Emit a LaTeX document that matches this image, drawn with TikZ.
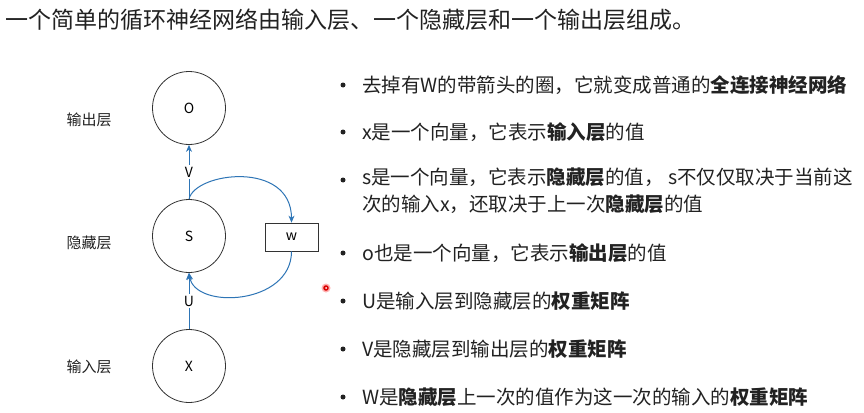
\documentclass[tikz,border=0pt]{standalone}
\usepackage{fontspec}
\setmainfont{Noto Sans CJK SC}
\usetikzlibrary{arrows.meta}
\definecolor{arrowblue}{HTML}{2E75B6}
\definecolor{txt}{HTML}{222222}
\tikzset{
  neuron/.style={circle,draw=black!80,line width=0.8pt,minimum size=73pt,inner sep=0pt,font=\fontsize{14}{16}\selectfont},
  wbox/.style={rectangle,draw=black!80,line width=0.8pt,minimum width=53pt,minimum height=28pt,inner sep=0pt,font=\fontsize{14}{16}\selectfont},
  layerlbl/.style={font=\fontsize{15}{17}\selectfont,text=txt},
  conn/.style={draw=arrowblue,line width=1pt,-{Stealth[length=7pt,width=6pt]}},
  wlbl/.style={fill=white,inner sep=1.5pt,font=\fontsize{14}{16}\selectfont},
  bullettxt/.style={anchor=west,inner sep=0pt,font=\fontsize{19.5}{27}\selectfont,text=txt,align=left},
  bulletdot/.style={circle,fill=txt,minimum size=5pt,inner sep=0pt}
}
\begin{document}
\begin{tikzpicture}[x=1pt,y=-1pt]
\useasboundingbox[fill=white] (0,0) rectangle (864,412);
% title
\node[anchor=west,inner sep=0pt,font=\fontsize{23}{25}\selectfont,text=txt] (title) at (5,20) {一个简单的循环神经网络由输入层、一个隐藏层和一个输出层组成。};
% layer labels
\node[layerlbl] (lo) at (89,120) {输出层};
\node[layerlbl] (lh) at (89,243) {隐藏层};
\node[layerlbl] (li) at (89,367) {输入层};
% neurons
\node[neuron] (O) at (189,108) {O};
\node[neuron] (S) at (189,236) {S};
\node[neuron] (X) at (189,366) {X};
\node[wbox] (W) at (291.5,237) {w};
% connectors
\draw[conn] (S.north) -- node[wlbl] {V} (O.south);
\draw[conn] (X.north) -- node[wlbl] {U} (S.south);
\draw[conn] (S.north) .. controls (195,172) and (291.5,160) .. (W.north);
\draw[conn] (W.south) .. controls (291.5,305) and (195,310) .. (S.south);
% pointer dot
\fill[red!30] (326,288) circle (4.5pt);
\fill[red!85!black] (326,288) circle (2.8pt);
\fill[white] (326,288) circle (1pt);
% bullets
\node[bulletdot] (d1) at (343,85) {};
\node[bullettxt] (b1) at (362,85) {去掉有W的带箭头的圈，它就变成普通的\textbf{全连接神经网络}};
\node[bulletdot] (d2) at (343,132) {};
\node[bullettxt] (b2) at (362,132) {x是一个向量，它表示\textbf{输入层}的值};
\node[bulletdot] (d3) at (343,180) {};
\node[bullettxt,anchor=north west] (b3) at (362,168) {s是一个向量，它表示\textbf{隐藏层}的值， s不仅仅取决于当前这\\次的输入x，还取决于上一次\textbf{隐藏层}的值};
\node[bulletdot] (d4) at (343,253) {};
\node[bullettxt] (b4) at (362,253) {o也是一个向量，它表示\textbf{输出层}的值};
\node[bulletdot] (d5) at (343,301) {};
\node[bullettxt] (b5) at (362,301) {U是输入层到隐藏层的\textbf{权重矩阵}};
\node[bulletdot] (d6) at (343,349) {};
\node[bullettxt] (b6) at (362,349) {V是隐藏层到输出层的\textbf{权重矩阵}};
\node[bulletdot] (d7) at (343,397) {};
\node[bullettxt] (b7) at (362,397) {W是\textbf{隐藏层}上一次的值作为这一次的输入的\textbf{权重矩阵}};
\end{tikzpicture}
\end{document}
